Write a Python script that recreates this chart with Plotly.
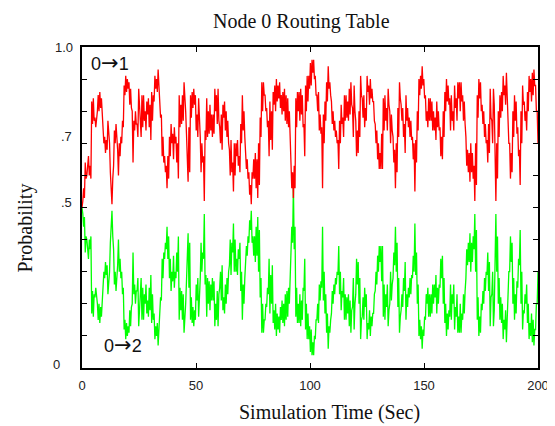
import numpy as np
import plotly.graph_objects as go

# Probability of routing 0->1 (red): upper/lower swing within each short time window,
# read off the picture, sim time 0..200 s
p01 = [
    0.50,0.52, 0.56,0.53, 0.64,0.59, 0.60,0.64, 0.66,0.60,
    0.63,0.59, 0.83,0.76, 0.84,0.77, 0.78,0.75, 0.77,0.80,
    0.85,0.80, 0.86,0.81, 0.84,0.79, 0.75,0.70, 0.72,0.67,
    0.71,0.68, 0.77,0.73, 0.70,0.61, 0.55,0.51, 0.59,0.63,
    0.74,0.70, 0.76,0.72, 0.68,0.60, 0.70,0.66, 0.72,0.70,
    0.77,0.75, 0.88,0.85, 0.91,0.86, 0.90,0.87, 0.89,0.82,
    0.87,0.81, 0.80,0.64, 0.77,0.74, 0.80,0.76, 0.76,0.72,
    0.87,0.82, 0.77,0.72, 0.85,0.75, 0.85,0.77, 0.80,0.74,
    0.83,0.79, 0.84,0.75, 0.82,0.71, 0.86,0.77, 0.85,0.83,
    0.91,0.87, 0.90,0.86, 0.93,0.89, 0.85,0.78, 0.79,0.66,
    0.72,0.64, 0.66,0.61, 0.63,0.56, 0.66,0.59, 0.72,0.66,
    0.76,0.70, 0.73,0.65, 0.75,0.70, 0.72,0.64, 0.70,0.59,
    0.85,0.75, 0.82,0.76, 0.85,0.77, 0.89,0.85, 0.80,0.73,
    0.66,0.58, 0.75,0.61, 0.85,0.78, 0.86,0.81, 0.87,0.82,
    0.85,0.74, 0.79,0.72, 0.84,0.79, 0.72,0.61, 0.70,0.64,
    0.66,0.52, 0.74,0.71, 0.84,0.72, 0.80,0.73, 0.82,0.74,
    0.79,0.72, 0.79,0.73, 0.87,0.80, 0.85,0.76, 0.87,0.77,
    0.75,0.70, 0.79,0.68, 0.82,0.78, 0.83,0.74, 0.80,0.72,
    0.77,0.70, 0.68,0.60, 0.71,0.61, 0.64,0.55, 0.70,0.60,
    0.70,0.66, 0.71,0.63, 0.66,0.61, 0.76,0.70, 0.85,0.74,
    0.80,0.72, 0.68,0.62, 0.65,0.59, 0.61,0.54, 0.57,0.51,
    0.61,0.59, 0.65,0.59, 0.67,0.56, 0.65,0.53, 0.70,0.57,
    0.78,0.72, 0.89,0.80, 0.89,0.85, 0.85,0.80, 0.81,0.75,
    0.77,0.66, 0.83,0.71, 0.80,0.68, 0.86,0.82, 0.88,0.80,
    0.90,0.83, 0.88,0.84, 0.89,0.81, 0.85,0.79, 0.86,0.80,
    0.87,0.77, 0.85,0.76, 0.84,0.75, 0.80,0.74, 0.64,0.56,
    0.61,0.53, 0.63,0.56, 0.84,0.75, 0.86,0.80, 0.86,0.77,
    0.87,0.79, 0.85,0.75, 0.76,0.66, 0.88,0.80, 0.91,0.83,
    0.91,0.87,
    0.95,0.88, 0.96,0.92, 0.96,0.90, 0.91,0.85, 0.85,0.80,
    0.86,0.74, 0.79,0.73, 0.75,0.56, 0.79,0.70, 0.83,0.77,
    0.89,0.83, 0.94,0.87, 0.89,0.85, 0.83,0.76, 0.80,0.74,
    0.77,0.72, 0.74,0.70, 0.71,0.62, 0.77,0.70, 0.82,0.76,
    0.78,0.72, 0.85,0.77, 0.85,0.78, 0.83,0.77, 0.87,0.79,
    0.89,0.82, 0.81,0.72, 0.88,0.80, 0.77,0.66, 0.74,0.67,
    0.80,0.72, 0.91,0.85, 0.84,0.78, 0.85,0.75, 0.81,0.77,
    0.91,0.86, 0.88,0.82, 0.90,0.84, 0.87,0.83, 0.83,0.77,
    0.76,0.70, 0.74,0.65, 0.70,0.62, 0.67,0.62, 0.73,0.62,
    0.84,0.74, 0.85,0.77, 0.81,0.74, 0.87,0.82, 0.80,0.70,
    0.79,0.74, 0.72,0.64, 0.68,0.56, 0.70,0.61, 0.81,0.72,
    0.89,0.84, 0.82,0.77, 0.81,0.72, 0.76,0.67, 0.85,0.77,
    0.81,0.75, 0.78,0.72, 0.77,0.71, 0.72,0.65, 0.70,0.55,
    0.71,0.64, 0.80,0.74, 0.90,0.85, 0.91,0.87, 0.94,0.88,
    0.90,0.84, 0.85,0.77, 0.80,0.75, 0.84,0.77, 0.84,0.77,
    0.83,0.74, 0.80,0.74, 0.78,0.71, 0.83,0.75, 0.80,0.74,
    0.75,0.66, 0.72,0.65, 0.80,0.72, 0.86,0.80, 0.90,0.83,
    0.88,0.82, 0.84,0.74, 0.85,0.77, 0.80,0.74, 0.88,0.81,
    0.84,0.77, 0.89,0.84, 0.89,0.80, 0.89,0.83, 0.85,0.77,
    0.83,0.76, 0.72,0.63, 0.68,0.61, 0.67,0.58, 0.70,0.61,
    0.67,0.59, 0.63,0.52, 0.70,0.57, 0.85,0.78, 0.90,0.84,
    0.89,0.80, 0.82,0.76, 0.80,0.72, 0.76,0.70, 0.71,0.64,
    0.76,0.67, 0.87,0.78, 0.77,0.70, 0.87,0.82, 0.64,0.52,
    0.70,0.59, 0.80,0.72, 0.85,0.78, 0.86,0.80, 0.91,0.85,
    0.88,0.82, 0.92,0.85, 0.80,0.70, 0.70,0.59, 0.67,0.61,
    0.80,0.72, 0.85,0.77, 0.83,0.73, 0.75,0.66, 0.68,0.57,
    0.80,0.70, 0.88,0.82, 0.83,0.77, 0.80,0.74, 0.86,0.80,
    0.91,0.86, 0.90,0.83, 0.92,0.85, 0.93,0.88, 0.88,0.80,
    0.80,0.70,
]

# Probability of routing 0->2 (green)
p02 = [
    0.50,0.48, 0.44,0.47, 0.36,0.41, 0.40,0.36, 0.34,0.40,
    0.37,0.41, 0.17,0.24, 0.16,0.23, 0.22,0.25, 0.23,0.20,
    0.15,0.20, 0.14,0.19, 0.16,0.21, 0.25,0.30, 0.28,0.33,
    0.29,0.32, 0.23,0.27, 0.30,0.39, 0.45,0.49, 0.41,0.37,
    0.26,0.30, 0.24,0.28, 0.32,0.40, 0.30,0.34, 0.28,0.30,
    0.23,0.25, 0.12,0.15, 0.09,0.14, 0.10,0.13, 0.11,0.18,
    0.13,0.19, 0.20,0.36, 0.23,0.26, 0.20,0.24, 0.24,0.28,
    0.13,0.18, 0.23,0.28, 0.15,0.25, 0.15,0.23, 0.20,0.26,
    0.17,0.21, 0.16,0.25, 0.18,0.29, 0.14,0.23, 0.15,0.17,
    0.09,0.13, 0.10,0.14, 0.07,0.11, 0.15,0.22, 0.21,0.34,
    0.28,0.36, 0.34,0.39, 0.37,0.44, 0.34,0.41, 0.28,0.34,
    0.24,0.30, 0.27,0.35, 0.25,0.30, 0.28,0.36, 0.30,0.41,
    0.15,0.25, 0.18,0.24, 0.15,0.23, 0.11,0.15, 0.20,0.27,
    0.34,0.42, 0.25,0.39, 0.15,0.22, 0.14,0.19, 0.13,0.18,
    0.15,0.26, 0.21,0.28, 0.16,0.21, 0.28,0.39, 0.30,0.36,
    0.34,0.48, 0.26,0.29, 0.16,0.28, 0.20,0.27, 0.18,0.26,
    0.21,0.28, 0.21,0.27, 0.13,0.20, 0.15,0.24, 0.13,0.23,
    0.25,0.30, 0.21,0.32, 0.18,0.22, 0.17,0.26, 0.20,0.28,
    0.23,0.30, 0.32,0.40, 0.29,0.39, 0.36,0.45, 0.30,0.40,
    0.30,0.34, 0.29,0.37, 0.34,0.39, 0.24,0.30, 0.15,0.26,
    0.20,0.28, 0.32,0.38, 0.35,0.41, 0.39,0.46, 0.43,0.49,
    0.39,0.41, 0.35,0.41, 0.33,0.44, 0.35,0.47, 0.30,0.43,
    0.22,0.28, 0.11,0.20, 0.11,0.15, 0.15,0.20, 0.19,0.25,
    0.23,0.34, 0.17,0.29, 0.20,0.32, 0.14,0.18, 0.12,0.20,
    0.10,0.17, 0.12,0.16, 0.11,0.19, 0.15,0.21, 0.14,0.20,
    0.13,0.23, 0.15,0.24, 0.16,0.25, 0.20,0.26, 0.36,0.44,
    0.39,0.57, 0.37,0.44, 0.16,0.25, 0.14,0.20, 0.14,0.23,
    0.13,0.21, 0.15,0.25, 0.24,0.34, 0.12,0.20, 0.09,0.17,
    0.09,0.13,
    0.05,0.12, 0.04,0.08, 0.04,0.10, 0.09,0.15, 0.15,0.20,
    0.14,0.26, 0.21,0.27, 0.25,0.44, 0.21,0.30, 0.17,0.23,
    0.11,0.17, 0.06,0.13, 0.11,0.15, 0.17,0.24, 0.20,0.26,
    0.23,0.28, 0.26,0.30, 0.29,0.38, 0.23,0.30, 0.18,0.24,
    0.22,0.28, 0.15,0.23, 0.15,0.22, 0.17,0.23, 0.13,0.21,
    0.11,0.18, 0.19,0.28, 0.12,0.20, 0.23,0.34, 0.26,0.33,
    0.20,0.28, 0.09,0.15, 0.16,0.22, 0.15,0.25, 0.19,0.23,
    0.09,0.14, 0.12,0.18, 0.10,0.16, 0.13,0.17, 0.17,0.23,
    0.24,0.30, 0.26,0.35, 0.30,0.38, 0.33,0.38, 0.27,0.38,
    0.16,0.26, 0.15,0.23, 0.19,0.26, 0.13,0.18, 0.20,0.30,
    0.21,0.26, 0.28,0.36, 0.32,0.44, 0.30,0.39, 0.19,0.28,
    0.11,0.16, 0.18,0.23, 0.19,0.28, 0.24,0.33, 0.15,0.23,
    0.19,0.25, 0.22,0.28, 0.23,0.29, 0.28,0.35, 0.30,0.45,
    0.29,0.36, 0.20,0.26, 0.10,0.15, 0.09,0.13, 0.06,0.12,
    0.10,0.16, 0.15,0.23, 0.20,0.25, 0.16,0.23, 0.16,0.23,
    0.17,0.26, 0.20,0.26, 0.22,0.29, 0.17,0.25, 0.20,0.26,
    0.25,0.34, 0.28,0.35, 0.20,0.28, 0.14,0.20, 0.10,0.17,
    0.12,0.18, 0.16,0.26, 0.15,0.23, 0.20,0.26, 0.12,0.19,
    0.16,0.23, 0.11,0.16, 0.11,0.20, 0.11,0.17, 0.15,0.23,
    0.17,0.24, 0.28,0.37, 0.32,0.39, 0.33,0.42, 0.30,0.39,
    0.33,0.41, 0.37,0.48, 0.30,0.43, 0.15,0.22, 0.10,0.16,
    0.11,0.20, 0.18,0.24, 0.20,0.28, 0.24,0.30, 0.29,0.36,
    0.24,0.33, 0.13,0.22, 0.23,0.30, 0.13,0.18, 0.36,0.48,
    0.30,0.41, 0.20,0.28, 0.15,0.22, 0.14,0.20, 0.09,0.15,
    0.12,0.18, 0.08,0.15, 0.20,0.30, 0.30,0.41, 0.33,0.39,
    0.20,0.28, 0.15,0.23, 0.17,0.27, 0.25,0.34, 0.32,0.43,
    0.20,0.30, 0.12,0.18, 0.17,0.23, 0.20,0.26, 0.14,0.20,
    0.09,0.14, 0.10,0.17, 0.08,0.15, 0.07,0.12, 0.12,0.20,
    0.20,0.30,
]

x_ticks = [0, 50, 100, 150, 200]
x_tick_labels = ["0", "50", "100", "150", "200"]
y_label_vals = [1.0, 0.722, 0.516, 0.01]
y_label_text = ["1.0", ".7", ".5", "0"]
y_label_shift = [-7, -8, -8, -20]

t = np.linspace(0, 200, len(p01))
t2 = np.linspace(0, 200, len(p02))

fig = go.Figure()
fig.add_trace(go.Scatter(x=t2, y=p02, mode="lines",
                         line=dict(color="#00ff00", width=1.3), showlegend=False))
fig.add_trace(go.Scatter(x=t, y=p01, mode="lines",
                         line=dict(color="#ff0000", width=1.3), showlegend=False))

sans = "Liberation Sans, Arial, sans-serif"
serif = "Liberation Serif, Times New Roman, serif"
arrow = "<span style='font-family:DejaVu Sans;font-size:21px'>→</span>"

annotations = []
for v, txt, sh in zip(y_label_vals, y_label_text, y_label_shift):
    annotations.append(dict(x=0, y=v, xref="paper", yref="y", text=txt,
                            showarrow=False, xanchor="right", yanchor="middle",
                            xshift=sh, font=dict(family=sans, size=13, color="#222")))

annotations += [
    dict(x=12.4, y=0.95, xref="x", yref="y", text="0" + arrow + "1", showarrow=False,
         font=dict(family=sans, size=18, color="#111")),
    dict(x=18.0, y=0.072, xref="x", yref="y", text="0" + arrow + "2", showarrow=False,
         font=dict(family=sans, size=18, color="#111")),
    dict(x=0.482, y=1.080, xref="paper", yref="paper", text="Node 0 Routing Table",
         showarrow=False, xanchor="center", yanchor="middle",
         font=dict(family=serif, size=20, color="#111")),
    dict(x=0.543, y=-0.139, xref="paper", yref="paper", text="Simulation Time (Sec)",
         showarrow=False, xanchor="center", yanchor="middle",
         font=dict(family=serif, size=20, color="#111")),
    dict(x=-0.124, y=0.436, xref="paper", yref="paper", text="Probability",
         showarrow=False, xanchor="center", yanchor="middle", textangle=-90,
         font=dict(family=serif, size=20, color="#111")),
]

# page body has an 8px default margin, so the figure is 8px smaller
fig.update_layout(
    width=547, height=418,
    margin=dict(l=74, r=6, t=39, b=58),
    paper_bgcolor="white", plot_bgcolor="white",
    annotations=annotations,
    xaxis=dict(range=[0, 200], tickvals=x_ticks, ticktext=x_tick_labels,
               ticks="inside", ticklen=5, tickcolor="black", tickwidth=1,
               showline=True, linecolor="black", linewidth=1.5, mirror="ticks",
               showgrid=False, zeroline=False, ticklabelstandoff=5,
               ticklabeloverflow="allow",
               tickfont=dict(family=sans, size=13, color="#222")),
    yaxis=dict(range=[0, 1], dtick=0.1, tick0=0, showticklabels=False,
               ticks="inside", ticklen=5, tickcolor="black", tickwidth=1,
               showline=True, linecolor="black", linewidth=1.5, mirror="ticks",
               showgrid=False, zeroline=False),
)

fig.write_html("out.html")
